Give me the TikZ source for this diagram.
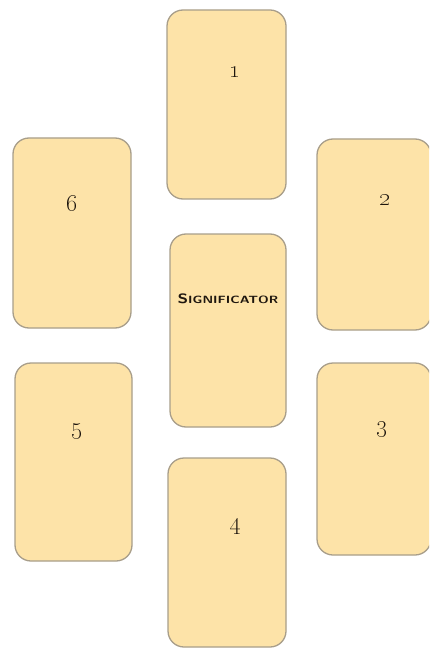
\documentclass[tikz,border=0pt]{standalone}
\usepackage{graphicx}
\definecolor{cardfill}{RGB}{253,227,168}
\definecolor{cardedge}{RGB}{168,158,138}
\definecolor{inkc}{RGB}{30,22,14}
\begin{document}
\begin{tikzpicture}[x=1pt,y=-1pt,
  card/.style={draw=cardedge, fill=cardfill, rounded corners=16pt, line width=1.3pt, inner sep=0pt},
  numlab/.style={text=inkc, inner sep=0pt, font=\Huge\bfseries},
  siglab/.style={text=inkc, inner sep=0pt}]
\useasboundingbox (0,0) rectangle (429,652);
\begin{scope}
\clip (0,0) rectangle (429,652);
\node[card, minimum width=119pt, minimum height=189pt] (c1) at (226.5,104.5) {};
\node[card, minimum width=118pt, minimum height=190pt] (c6) at (72,233) {};
\node[card, minimum width=114pt, minimum height=191pt] (c2) at (374,234.5) {};
\node[card, minimum width=116pt, minimum height=193pt] (cs) at (228,330.5) {};
\node[card, minimum width=117pt, minimum height=198pt] (c5) at (73.5,462) {};
\node[card, minimum width=114pt, minimum height=192pt] (c3) at (374,459) {};
\node[card, minimum width=118pt, minimum height=189pt] (c4) at (227,552.5) {};
\end{scope}
\node[numlab] (t1) at (235,72) {\oldstylenums{1}};
\node[numlab] (t6) at (72,203) {\oldstylenums{6}};
\node[numlab] (t2) at (385,200) {\oldstylenums{2}};
\node[numlab] (t5) at (77,432) {\oldstylenums{5}};
\node[numlab] (t3) at (382,430) {\oldstylenums{3}};
\node[numlab] (t4) at (235,527) {\oldstylenums{4}};
\node[siglab] (ts) at (228,299) {\scalebox{1.28}[1]{\sffamily\bfseries{\fontsize{13.5}{13.5}\selectfont S}{\fontsize{10.5}{10.5}\selectfont IGNIFICATOR}}};
\end{tikzpicture}
\end{document}
